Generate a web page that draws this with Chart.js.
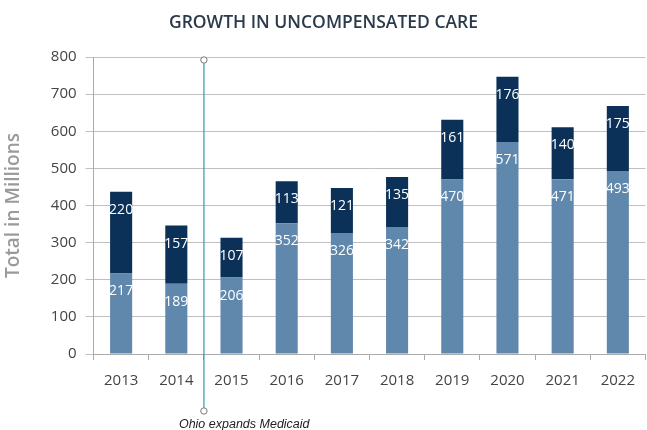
<!DOCTYPE html>
<html>
<head>
<meta charset="utf-8">
<style>
  body { margin: 0; background: #fff; }
  #wrap { width: 647px; height: 430px; }
</style>
<script src="https://cdn.jsdelivr.net/npm/chart.js@4.4.1/dist/chart.umd.min.js"></script>
</head>
<body>
<div id="wrap"><canvas id="myChart" width="647" height="430"></canvas></div>
<script>
const years = ['2013', '2014', '2015', '2016', '2017', '2018', '2019', '2020', '2021', '2022'];
const baseValues = [217, 189, 206, 352, 326, 342, 470, 571, 471, 493];
const addedValues = [220, 157, 107, 113, 121, 135, 161, 176, 140, 175];
const yTicks = [0, 100, 200, 300, 400, 500, 600, 700, 800];
const noteText = 'Ohio expands Medicaid';
const notePosition = 1.5; // on the tick between 2014 and 2015

// white value labels just below the top of each segment
const segmentLabels = {
  id: 'segmentLabels',
  afterDatasetsDraw(chart) {
    const ctx = chart.ctx;
    ctx.save();
    ctx.fillStyle = '#ffffff';
    ctx.font = '14px "Open Sans"';
    ctx.textAlign = 'center';
    ctx.textBaseline = 'middle';
    chart.data.datasets.forEach((ds, i) => {
      chart.getDatasetMeta(i).data.forEach((bar, j) => {
        ctx.fillText(ds.data[j], bar.x, bar.y + 18);
      });
    });
    ctx.restore();
  }
};

// vertical marker line with caption
const medicaidNote = {
  id: 'medicaidNote',
  afterDraw(chart) {
    const ctx = chart.ctx;
    const x = chart.scales.x.getPixelForValue(notePosition);
    const top = chart.scales.y.getPixelForValue(792);
    const bottom = chart.chartArea.bottom + 57;
    ctx.save();
    ctx.strokeStyle = '#2a9bb3';
    ctx.lineWidth = 1.2;
    ctx.beginPath();
    ctx.moveTo(x, top);
    ctx.lineTo(x, bottom);
    ctx.stroke();
    ctx.strokeStyle = '#777';
    ctx.fillStyle = '#fff';
    ctx.lineWidth = 1;
    [top, bottom].forEach(y => {
      ctx.beginPath();
      ctx.arc(x, y, 3.2, 0, Math.PI * 2);
      ctx.fill();
      ctx.stroke();
    });
    ctx.fillStyle = '#222';
    ctx.font = 'italic 12.5px "Liberation Sans"';
    ctx.textAlign = 'left';
    ctx.textBaseline = 'middle';
    ctx.fillText(noteText, x - 25, bottom + 14);
    ctx.restore();
  }
};

new Chart(document.getElementById('myChart'), {
  type: 'bar',
  data: {
    labels: years,
    datasets: [
      {
        label: 'Base',
        data: baseValues,
        backgroundColor: '#6088ad',
        categoryPercentage: 1,
        barPercentage: 0.4
      },
      {
        label: 'Added',
        data: addedValues,
        backgroundColor: '#0b3158',
        categoryPercentage: 1,
        barPercentage: 0.4
      }
    ]
  },
  options: {
    responsive: false,
    animation: false,
    layout: { padding: { left: 0, right: 0, top: 0, bottom: 28 } },
    plugins: {
      legend: { display: false },
      tooltip: { enabled: false },
      title: {
        display: true,
        text: 'GROWTH IN UNCOMPENSATED CARE',
        color: '#2b3a4a',
        font: { family: 'Open Sans', size: 17.5, weight: '600' },
        padding: { top: 13, bottom: 23 }
      }
    },
    scales: {
      x: {
        stacked: true,
        offset: true,
        border: { color: '#aaa' },
        grid: { drawOnChartArea: false, offset: true, tickLength: 6, color: '#aaa' },
        ticks: { color: '#444', font: { family: 'Open Sans', size: 15 }, padding: 12 }
      },
      y: {
        stacked: true,
        min: 0,
        max: 800,
        afterBuildTicks(scale) { scale.ticks = yTicks.map(v => ({ value: v })); },
        border: { color: '#aaa' },
        grid: { color: '#c0c0c0', tickLength: 8 },
        ticks: { color: '#444', font: { family: 'Open Sans', size: 15 }, padding: 9 },
        title: {
          display: true,
          text: 'Total in Millions',
          color: '#9a9a9a',
          font: { family: 'Open Sans', size: 19, weight: '600' },
          padding: { top: 2, bottom: 17 }
        }
      }
    }
  },
  plugins: [segmentLabels, medicaidNote]
});
</script>
</body>
</html>
